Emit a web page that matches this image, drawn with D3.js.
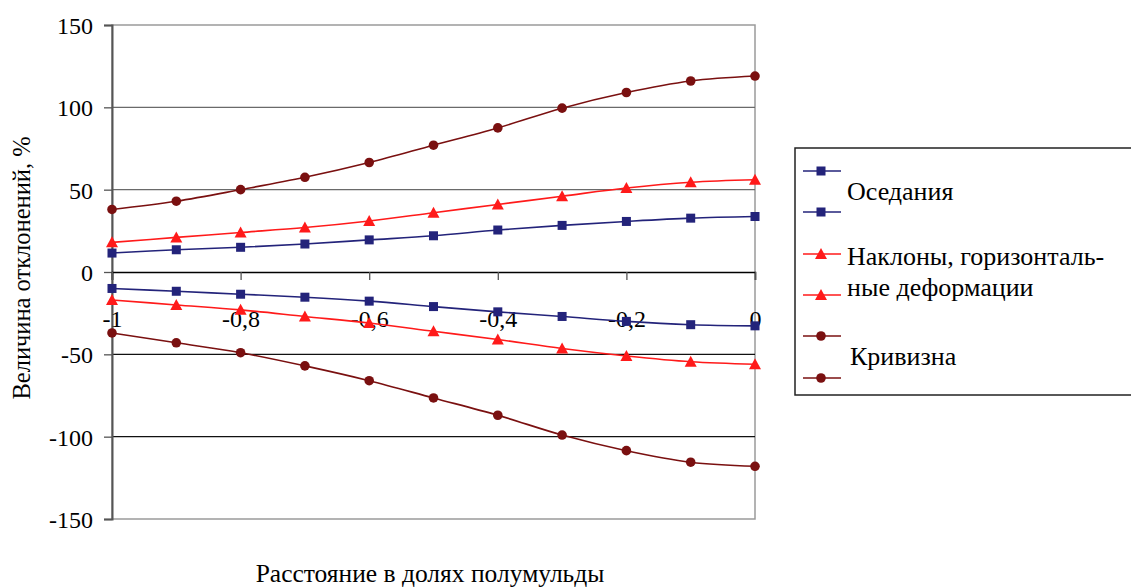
<!DOCTYPE html>
<html><head><meta charset="utf-8">
<script src="https://cdn.jsdelivr.net/npm/d3@7"></script>
<style>body{margin:0;background:#fff}svg{display:block}</style>
</head><body>
<svg id="c" width="1131" height="587"></svg>
<script>
const xValues = [-1, -0.9, -0.8, -0.7, -0.6, -0.5, -0.4, -0.3, -0.2, -0.1, 0];
const subsidencePos = [11.5, 13.5, 15, 17, 19.5, 22, 25.5, 28.3, 30.7, 32.7, 33.7];
const subsidenceNeg = [-10, -11.7, -13.5, -15.3, -17.7, -21, -24.2, -27, -30, -32, -32.7];
const tiltPos = [18, 21, 24, 27, 31, 36, 41, 46, 51, 54.5, 56];
const tiltNeg = [-17, -20, -23, -27, -31, -36, -41, -46.5, -51, -54.5, -56];
const curvPos = [38, 43, 50, 57.5, 66.5, 77, 87.5, 99.5, 109, 116, 119];
const curvNeg = [-37, -43, -49, -57, -66, -76.5, -87, -99, -108.5, -115.5, -118];
const xTicks = [-1, -0.8, -0.6, -0.4, -0.2, 0];
const xTickLabels = ["-1", "-0,8", "-0,6", "-0,4", "-0,2", "0"];
const yTicks = [-150, -100, -50, 0, 50, 100, 150];
const seriesNames = ["Оседания", "Наклоны, горизонталь-|ные деформации", "Кривизна"];
const yTitle = "Величина отклонений, %";
const xTitle = "Расстояние в долях полумульды";

const series = [
  {name: seriesNames[0], color: "#23237a", marker: "square", data: [subsidencePos, subsidenceNeg]},
  {name: seriesNames[1], color: "#ff1a1a", marker: "triangle", data: [tiltPos, tiltNeg]},
  {name: seriesNames[2], color: "#7a1010", marker: "circle", data: [curvPos, curvNeg]}
];

function pickFont() {
  const cands = ["Liberation Serif", "Tinos", "Times New Roman", "DejaVu Serif", "Noto Serif", "FreeSerif",
    "Nimbus Roman", "Nimbus Roman No9 L", "Times", "PT Serif", "Georgia"];
  const ctx = document.createElement("canvas").getContext("2d");
  const sample = "Величина отклонений 0123 WMwiIl";
  const w = f => { ctx.font = `40px ${f}`; return ctx.measureText(sample).width; };
  const base1 = w("monospace");
  for (const c of cands) {
    const a = w(`"${c}", monospace`), b = w(`"${c}", sans-serif`);
    if (a === b && a !== base1) return `"${c}", serif`;
  }
  return "serif";
}
const FONT = pickFont();

const svg = d3.select("#c");
const L = 112, R = 755, T = 25, B = 519;
const x = d3.scaleLinear().domain([-1, 0]).range([L, R]);
const y = d3.scaleLinear().domain([-150, 150]).range([B, T]);

svg.append("rect").attr("x", L).attr("y", T).attr("width", R - L).attr("height", B - T)
  .attr("fill", "none").attr("stroke", "#9a9a9a").attr("stroke-width", 1.5);

svg.append("g").selectAll("line").data(yTicks.filter(v => v !== 150 && v !== -150 && v !== 0)).join("line")
  .attr("x1", L).attr("x2", R).attr("y1", d => y(d)).attr("y2", d => y(d))
  .attr("stroke", d => d > 0 ? "#6a6a6a" : "#111").attr("stroke-width", 1.3);

const yAxis = d3.axisLeft(y).tickValues(yTicks).tickSize(8).tickFormat(d => String(d));
const gy = svg.append("g").attr("transform", `translate(${L},0)`).call(yAxis).attr("font-family", FONT);
gy.select(".domain").attr("stroke", "#555").attr("stroke-width", 2);
gy.selectAll(".tick line").attr("stroke", "#555").attr("stroke-width", 1.3);
gy.selectAll(".tick text").attr("x", -19).attr("dy", "0.35em").style("font-size", "24px")
  .style("font-family", FONT).attr("fill", "#000");

const xAxis = d3.axisBottom(x).tickValues(xTicks).tickSize(8).tickFormat((d, i) => xTickLabels[i]);
const gx = svg.append("g").attr("transform", `translate(0,${y(0)})`).call(xAxis).attr("font-family", FONT);
gx.select(".domain").attr("stroke", "#000").attr("stroke-width", 1.5);
gx.selectAll(".tick line").attr("stroke", "#555").attr("stroke-width", 1.3);
gx.selectAll(".tick text").attr("y", 47).attr("dy", "0.35em").style("font-size", "24px")
  .style("font-family", FONT).attr("fill", "#000");

function drawMarker(g, type, cx, cy, color) {
  if (type === "square") {
    g.append("rect").attr("x", cx - 4.5).attr("y", cy - 4.5).attr("width", 9).attr("height", 9).attr("fill", color);
  } else if (type === "triangle") {
    g.append("path").attr("d", `M${cx},${cy - 6}L${cx + 6},${cy + 5}L${cx - 6},${cy + 5}Z`).attr("fill", color);
  } else {
    g.append("circle").attr("cx", cx).attr("cy", cy).attr("r", 4.8).attr("fill", color);
  }
}

const line = d3.line().x((d, i) => x(xValues[i])).y(d => y(d)).curve(d3.curveCatmullRom.alpha(0.5));
series.forEach(s => {
  s.data.forEach(arr => {
    svg.append("path").attr("d", line(arr)).attr("fill", "none").attr("stroke", s.color).attr("stroke-width", 1.6);
    const g = svg.append("g");
    arr.forEach((v, i) => drawMarker(g, s.marker, x(xValues[i]), y(v), s.color));
  });
});

svg.append("text").attr("transform", `translate(30,268) rotate(-90)`).attr("text-anchor", "middle")
  .style("font-size", "24.5px").style("font-family", FONT).text(yTitle);
svg.append("text").attr("x", 430).attr("y", 582).attr("text-anchor", "middle")
  .style("font-size", "25.5px").style("font-family", FONT).text(xTitle);

const lg = svg.append("g");
lg.append("rect").attr("x", 795).attr("y", 148).attr("width", 400).attr("height", 247)
  .attr("fill", "#fff").attr("stroke", "#222").attr("stroke-width", 1.5);
const legendLayout = [
  {s: 0, sampleY: [171, 212], textY: [200]},
  {s: 1, sampleY: [254, 295], textY: [265, 296]},
  {s: 2, sampleY: [336, 378], textY: [365]}
];
legendLayout.forEach(l => {
  const s = series[l.s];
  l.sampleY.forEach(sy => {
    lg.append("line").attr("x1", 803).attr("x2", 841).attr("y1", sy).attr("y2", sy)
      .attr("stroke", s.color).attr("stroke-width", 1.6);
    drawMarker(lg, s.marker, 821, sy, s.color);
  });
  const parts = s.name.split("|");
  parts.forEach((p, i) => {
    lg.append("text").attr("x", l.s === 2 ? 850 : 847).attr("y", l.textY[i])
      .style("font-size", "26px").style("font-family", FONT).text(p);
  });
});
</script>
</body></html>
